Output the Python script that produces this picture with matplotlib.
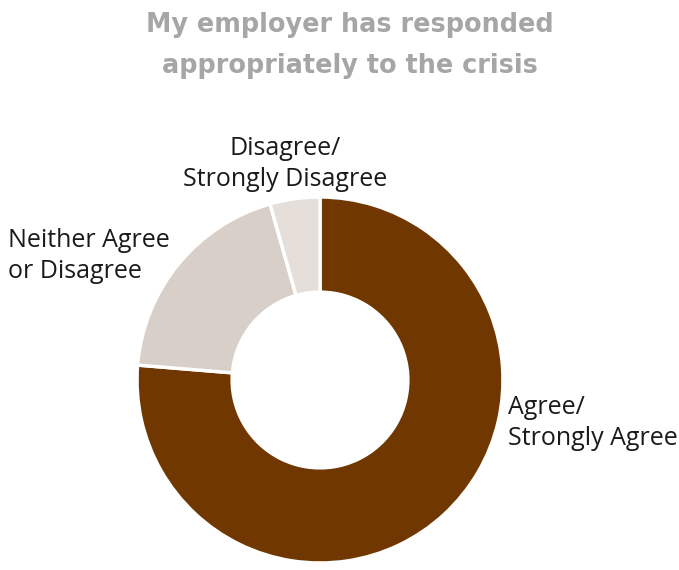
import matplotlib
matplotlib.use("Agg")
import matplotlib.pyplot as plt

categories = ["Agree/\nStrongly Agree", "Neither Agree\nor Disagree", "Disagree/\nStrongly Disagree"]
values = [76.3, 19.3, 4.4]
colors = ["#703800", "#D8CFC8", "#E5DED9"]

W, H = 679, 570
fig = plt.figure(figsize=(W / 100, H / 100), dpi=100)

cx, cy, r = 320, 380, 183
ax = fig.add_axes([(cx - r) / W, 1 - (cy + r) / H, 2 * r / W, 2 * r / H])
ax.pie(values, colors=colors, startangle=90, counterclock=False, radius=1.0,
       wedgeprops=dict(width=0.52, edgecolor="white", linewidth=2.5))
ax.set_xlim(-1, 1)
ax.set_ylim(-1, 1)
ax.set_aspect("auto")
ax.axis("off")

title_font = dict(fontsize=18.4, fontweight="bold", color="#A6A6A6", family="DejaVu Sans")
fig.text(350 / W, 1 - 32 / H, "My employer has responded", ha="center", va="baseline", **title_font)
fig.text(350 / W, 1 - 73 / H, "appropriately to the crisis", ha="center", va="baseline", **title_font)

lab_font = dict(fontsize=18, color="#1a1a1a", family="Open Sans", linespacing=1.32)
# va="baseline" aligns the last line's baseline
fig.text(285 / W, 1 - 186 / H, categories[2], ha="center", va="baseline", multialignment="center", **lab_font)
fig.text(8 / W, 1 - 278 / H, categories[1], ha="left", va="baseline", **lab_font)
fig.text(508 / W, 1 - 445 / H, categories[0], ha="left", va="baseline", **lab_font)

fig.savefig("out.png", dpi=100)
